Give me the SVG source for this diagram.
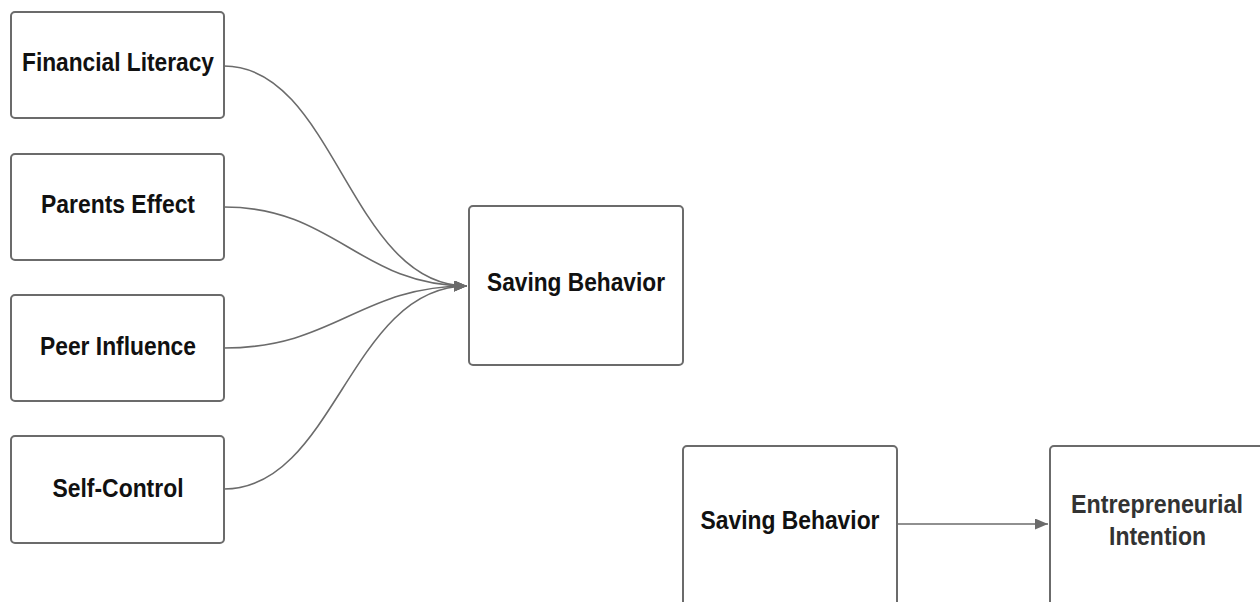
<svg xmlns="http://www.w3.org/2000/svg" width="1260" height="602" viewBox="0 0 1260 602">
<style>
.box{fill:#fff;stroke:#6b6b6b;stroke-width:2}
.t{font-family:"Liberation Sans",Arial,sans-serif;font-weight:bold;font-size:25px;fill:#111;text-anchor:middle}
.t2{fill:#333}
.c{fill:none;stroke:#6b6b6b;stroke-width:1.6}
</style>
<defs>
<marker id="ah" markerWidth="14" markerHeight="12" refX="13" refY="5.5" orient="auto" markerUnits="userSpaceOnUse">
<path d="M0,0 L13,5.5 L0,11 Z" fill="#6b6b6b"/>
</marker>
</defs>
<rect width="1260" height="602" fill="#fff"/>
<g id="financial-literacy"><rect class="box" x="11" y="12" width="213" height="106" rx="4"/><text class="t" x="118" y="71" textLength="192" lengthAdjust="spacingAndGlyphs">Financial Literacy</text></g>
<g id="parents-effect"><rect class="box" x="11" y="154" width="213" height="106" rx="4"/><text class="t" x="118" y="213" textLength="154" lengthAdjust="spacingAndGlyphs">Parents Effect</text></g>
<g id="peer-influence"><rect class="box" x="11" y="295" width="213" height="106" rx="4"/><text class="t" x="118" y="355" textLength="156" lengthAdjust="spacingAndGlyphs">Peer Influence</text></g>
<g id="self-control"><rect class="box" x="11" y="436" width="213" height="107" rx="4"/><text class="t" x="118" y="497" textLength="131" lengthAdjust="spacingAndGlyphs">Self-Control</text></g>
<g id="saving-behavior-1"><rect class="box" x="469" y="206" width="214" height="159" rx="4"/><text class="t" x="576" y="291" textLength="178" lengthAdjust="spacingAndGlyphs">Saving Behavior</text></g>
<g id="saving-behavior-2"><rect class="box" x="683" y="446" width="214" height="170" rx="4"/><text class="t" x="790" y="529" textLength="179" lengthAdjust="spacingAndGlyphs">Saving Behavior</text></g>
<g id="entrepreneurial-intention"><rect class="box" x="1050" y="446" width="220" height="170" rx="4"/><text class="t t2" x="1157" y="513" textLength="172" lengthAdjust="spacingAndGlyphs">Entrepreneurial</text><text class="t t2" x="1157.5" y="545" textLength="97" lengthAdjust="spacingAndGlyphs">Intention</text></g>
<g id="connectors">
<path class="c" d="M224,66 C335,66 350,286 467,286" marker-end="url(#ah)"/>
<path class="c" d="M224,207 C335,207 360,286 467,286" marker-end="url(#ah)"/>
<path class="c" d="M224,348 C335,348 360,286 467,286" marker-end="url(#ah)"/>
<path class="c" d="M224,489 C335,489 350,286 467,286" marker-end="url(#ah)"/>
<path class="c" d="M897,524 L1048,524" marker-end="url(#ah)"/>
</g>
</svg>
